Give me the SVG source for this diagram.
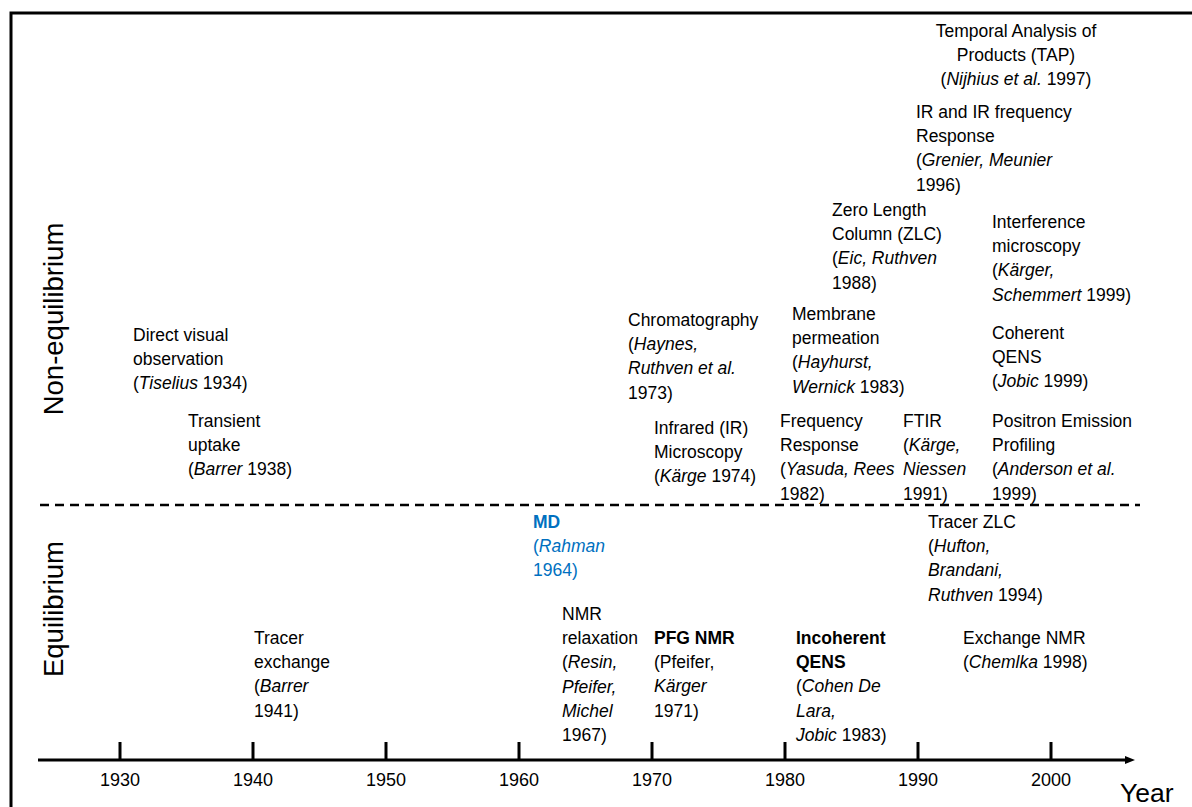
<svg xmlns="http://www.w3.org/2000/svg" width="1192" height="807" viewBox="0 0 1192 807">
<style>
text{font-family:"Liberation Sans",Arial,sans-serif;font-size:17.5px;fill:#000}
.i{font-style:italic}
.b{font-weight:bold}
.blue{fill:#0070C0}
.side{font-size:27.5px}
.yr{font-size:18px;text-anchor:middle}
.ax{stroke:#000;stroke-width:3;fill:none}
</style>
<defs>
<marker id="arr" markerWidth="10" markerHeight="8" refX="1" refY="4" orient="auto" markerUnits="userSpaceOnUse">
<path d="M0,0 L10,4 L0,8 Z" fill="#000"/>
</marker>
</defs>
<rect width="1192" height="807" fill="#fff"/>
<path d="M11,820 V13 H1205" class="ax"/>
<text class="side" transform="translate(63,319) rotate(-90)" text-anchor="middle">Non-equilibrium</text>
<text class="side" transform="translate(63,609) rotate(-90)" text-anchor="middle">Equilibrium</text>
<g id="connectors">
<line x1="40" y1="505" x2="1140" y2="505" stroke="#000" stroke-width="2.5" stroke-dasharray="9,6"/>
<line x1="38" y1="760" x2="1126" y2="760" class="ax" marker-end="url(#arr)"/>
<g class="ax">
<line x1="120" y1="742" x2="120" y2="760"/>
<line x1="253" y1="742" x2="253" y2="760"/>
<line x1="386" y1="742" x2="386" y2="760"/>
<line x1="519" y1="742" x2="519" y2="760"/>
<line x1="652" y1="742" x2="652" y2="760"/>
<line x1="785" y1="742" x2="785" y2="760"/>
<line x1="918" y1="742" x2="918" y2="760"/>
<line x1="1051" y1="742" x2="1051" y2="760"/>
</g>
</g>
<g id="axis-labels">
<text class="yr" x="120" y="786">1930</text>
<text class="yr" x="253" y="786">1940</text>
<text class="yr" x="386" y="786">1950</text>
<text class="yr" x="519" y="786">1960</text>
<text class="yr" x="652" y="786">1970</text>
<text class="yr" x="785" y="786">1980</text>
<text class="yr" x="918" y="786">1990</text>
<text class="yr" x="1051" y="786">2000</text>
<text x="1120" y="802" style="font-size:26.5px">Year</text>
</g>
<g id="direct-visual">
<text x="133" y="341">Direct visual<tspan x="133" dy="24.2">observation</tspan><tspan x="133" dy="24.2">(</tspan><tspan class="i">Tiselius</tspan> 1934)</text>
</g>
<g id="transient-uptake">
<text x="188" y="427">Transient<tspan x="188" dy="24.2">uptake</tspan><tspan x="188" dy="24.2">(</tspan><tspan class="i">Barrer</tspan> 1938)</text>
</g>
<g id="tap">
<text x="1016" y="37" text-anchor="middle">Temporal Analysis of<tspan x="1016" dy="24.2">Products (TAP)</tspan><tspan x="1016" dy="24.2">(<tspan class="i">Nijhius et al.</tspan> 1997)</tspan></text>
</g>
<g id="ir-frequency">
<text x="916" y="118">IR and IR frequency<tspan x="916" dy="24.2">Response</tspan><tspan x="916" dy="24.2">(</tspan><tspan class="i">Grenier, Meunier</tspan><tspan x="916" dy="24.2">1996)</tspan></text>
</g>
<g id="zlc">
<text x="832" y="216">Zero Length<tspan x="832" dy="24.2">Column (ZLC)</tspan><tspan x="832" dy="24.2">(</tspan><tspan class="i">Eic, Ruthven</tspan><tspan x="832" dy="24.2">1988)</tspan></text>
</g>
<g id="interference">
<text x="992" y="228">Interference<tspan x="992" dy="24.2">microscopy</tspan><tspan x="992" dy="24.2">(</tspan><tspan class="i">Kärger,</tspan><tspan x="992" dy="24.2" class="i">Schemmert</tspan> 1999)</text>
</g>
<g id="chromatography">
<text x="628" y="326">Chromatography<tspan x="628" dy="24.2">(</tspan><tspan class="i">Haynes,</tspan><tspan x="628" dy="24.2" class="i">Ruthven et al.</tspan><tspan x="628" dy="24.2">1973)</tspan></text>
</g>
<g id="membrane">
<text x="792" y="320">Membrane<tspan x="792" dy="24.2">permeation</tspan><tspan x="792" dy="24.2">(</tspan><tspan class="i">Hayhurst,</tspan><tspan x="792" dy="24.2" class="i">Wernick</tspan> 1983)</text>
</g>
<g id="coherent-qens">
<text x="992" y="339">Coherent<tspan x="992" dy="24.2">QENS</tspan><tspan x="992" dy="24.2">(</tspan><tspan class="i">Jobic</tspan> 1999)</text>
</g>
<g id="ir-microscopy">
<text x="654" y="434">Infrared (IR)<tspan x="654" dy="24.2">Microscopy</tspan><tspan x="654" dy="24.2">(</tspan><tspan class="i">Kärge</tspan> 1974)</text>
</g>
<g id="frequency-response">
<text x="780" y="427">Frequency<tspan x="780" dy="24.2">Response</tspan><tspan x="780" dy="24.2">(</tspan><tspan class="i">Yasuda, Rees</tspan><tspan x="780" dy="24.2">1982)</tspan></text>
</g>
<g id="ftir">
<text x="903" y="427">FTIR<tspan x="903" dy="24.2">(</tspan><tspan class="i">Kärge,</tspan><tspan x="903" dy="24.2" class="i">Niessen</tspan><tspan x="903" dy="24.2">1991)</tspan></text>
</g>
<g id="positron">
<text x="992" y="427">Positron Emission<tspan x="992" dy="24.2">Profiling</tspan><tspan x="992" dy="24.2">(</tspan><tspan class="i">Anderson et al.</tspan><tspan x="992" dy="24.2">1999)</tspan></text>
</g>
<g id="md">
<text x="533" y="528" class="blue"><tspan class="b">MD</tspan><tspan x="533" dy="24.2">(</tspan><tspan class="i">Rahman</tspan><tspan x="533" dy="24.2">1964)</tspan></text>
</g>
<g id="tracer-zlc">
<text x="928" y="528">Tracer ZLC<tspan x="928" dy="24.2">(</tspan><tspan class="i">Hufton,</tspan><tspan x="928" dy="24.2" class="i">Brandani,</tspan><tspan x="928" dy="24.2" class="i">Ruthven</tspan> 1994)</text>
</g>
<g id="nmr-relaxation">
<text x="562" y="620">NMR<tspan x="562" dy="24.2">relaxation</tspan><tspan x="562" dy="24.2">(</tspan><tspan class="i">Resin,</tspan><tspan x="562" dy="24.2" class="i">Pfeifer,</tspan><tspan x="562" dy="24.2" class="i">Michel</tspan><tspan x="562" dy="24.2">1967)</tspan></text>
</g>
<g id="pfg-nmr">
<text x="654" y="644"><tspan class="b">PFG NMR</tspan><tspan x="654" dy="24.2">(Pfeifer,</tspan><tspan x="654" dy="24.2" class="i">Kärger</tspan><tspan x="654" dy="24.2">1971)</tspan></text>
</g>
<g id="incoherent-qens">
<text x="796" y="644"><tspan class="b">Incoherent</tspan><tspan x="796" dy="24.2" class="b">QENS</tspan><tspan x="796" dy="24.2">(</tspan><tspan class="i">Cohen De</tspan><tspan x="796" dy="24.2" class="i">Lara,</tspan><tspan x="796" dy="24.2" class="i">Jobic</tspan> 1983)</text>
</g>
<g id="exchange-nmr">
<text x="963" y="644">Exchange NMR<tspan x="963" dy="24.2">(</tspan><tspan class="i">Chemlka</tspan> 1998)</text>
</g>
<g id="tracer-exchange">
<text x="254" y="644">Tracer<tspan x="254" dy="24.2">exchange</tspan><tspan x="254" dy="24.2">(</tspan><tspan class="i">Barrer</tspan><tspan x="254" dy="24.2">1941)</tspan></text>
</g>
</svg>
